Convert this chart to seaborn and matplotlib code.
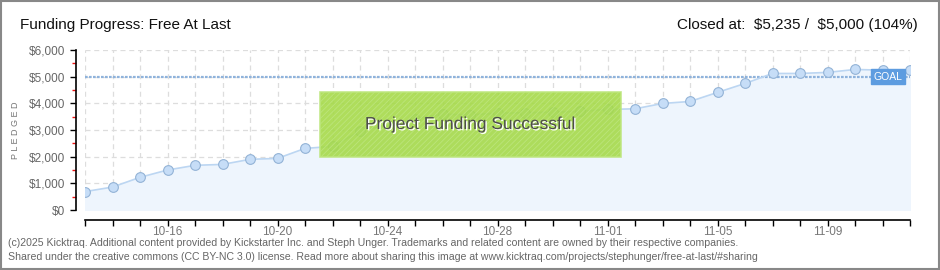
import numpy as np
import pandas as pd
import matplotlib
matplotlib.use('Agg')
import matplotlib.pyplot as plt
import matplotlib.dates as mdates
from matplotlib.patches import Rectangle
import matplotlib.patheffects as pe
import seaborn as sns

# ── Data ──────────────────────────────────────────────────────────────────────
dates = pd.date_range('2013-10-13', '2013-11-12', freq='D')
pledged = [690, 860, 1225, 1500, 1675, 1710, 1900, 1935, 2310, 2385,
           2960, 3200, 3420, 3595, 3570, 3630, 3645, 3670, 3700, 3770,
           3795, 3995, 4070, 4410, 4745, 5120, 5120, 5160, 5270, 5245, 5235]
goal = 5000
y_ticks = [0, 1000, 2000, 3000, 4000, 5000, 6000]
y_labels = ['$0', '$1,000', '$2,000', '$3,000', '$4,000', '$5,000', '$6,000']
title = 'Funding Progress: Free At Last'
closed = r'Closed at:  \$5,235 /  \$5,000 (104%)'
footer = ['(c)2025 Kicktraq. Additional content provided by Kickstarter Inc. and Steph Unger. '
          'Trademarks and related content are owned by their respective companies.',
          'Shared under the creative commons (CC BY-NC 3.0) license. Read more about sharing '
          'this image at www.kicktraq.com/projects/stephunger/free-at-last/#sharing']

df = pd.DataFrame({'date': dates, 'pledged': pledged})

# ── Style ─────────────────────────────────────────────────────────────────────
sns.set_style('white')
plt.rcParams['font.family'] = ['Liberation Sans', 'DejaVu Sans']
plt.rcParams['hatch.color'] = '#98cc42'
plt.rcParams['hatch.linewidth'] = 0.6

fig = plt.figure(figsize=(9.4, 2.7), dpi=100)
ax = fig.add_axes([85 / 940, 60 / 270, 825 / 940, 160 / 270])

# frame round the whole picture
fig.patches.append(Rectangle((0.0008, 0.002), 0.9984, 0.996, transform=fig.transFigure,
                             fill=False, edgecolor='#888888', linewidth=1.5))

# ── Area + line ───────────────────────────────────────────────────────────────
ax.fill_between(df['date'], df['pledged'], 0, color='#eef5fd', zorder=1)
ax.axhline(goal, color='#8fb3dc', lw=1.6, ls=(0, (1.2, 0.6)), zorder=2)
sns.lineplot(data=df, x='date', y='pledged', ax=ax, color='#bcd6f2', lw=1.2,
             marker='o', markersize=7, markerfacecolor='#c6ddf7',
             markeredgecolor='#93b3d6', markeredgewidth=0.8, zorder=3)

# ── Axes ──────────────────────────────────────────────────────────────────────
ax.set_xlim(dates[0], dates[-1])
ax.set_ylim(0, 6000)
ax.set_yticks(y_ticks)
ax.set_yticklabels(y_labels)
ax.set_yticks(np.arange(500, 6000, 1000), minor=True)
ax.tick_params(axis='y', which='major', left=True, length=4, width=1, color='black',
               labelsize=8.5, labelcolor='#666666', pad=4)
ax.tick_params(axis='y', which='minor', left=True, length=3, width=1, color='#ee1111')

ax.xaxis.set_major_locator(mdates.DayLocator())
ax.xaxis.set_minor_locator(plt.NullLocator())
ax.xaxis.set_major_formatter(plt.NullFormatter())
for d in dates[3::4]:
    ax.text(d, -0.1, d.strftime('%m-%d'), transform=ax.get_xaxis_transform(),
            ha='center', va='top', fontsize=8.5, color='#777777')
ax.tick_params(axis='x', which='major', bottom=True, direction='out', length=4,
               width=1, color='black')

ax.grid(True, which='major', color='#dddddd', ls=(0, (4, 3)), lw=0.9)
ax.set_axisbelow(True)
for s in ['top', 'right']:
    ax.spines[s].set_visible(False)
ax.spines['left'].set_position(('outward', 6.5))
ax.spines['bottom'].set_position(('outward', 7.2))
ax.spines['left'].set_linewidth(1.2)
ax.spines['bottom'].set_linewidth(1.2)
ax.spines['left'].set_color('black')
ax.spines['bottom'].set_color('black')
ax.set_xlabel('')
ax.set_ylabel('P L E D G E D', fontsize=6.5, color='#777777')
ax.yaxis.set_label_coords((20 - 85) / 825, 0.5)

# ── Goal tag ──────────────────────────────────────────────────────────────────
ax.text((888 - 85) / 825, goal, 'GOAL', transform=ax.get_yaxis_transform(),
        ha='center', va='center', fontsize=7.5, color='white', zorder=6,
        bbox=dict(boxstyle='square,pad=0.25', fc='#5d9ce0', ec='#5d9ce0'))

# ── Success banner ────────────────────────────────────────────────────────────
bx0, bx1 = (320 - 85) / 825, (621 - 85) / 825
by0, by1 = (210 - 157) / 160, (210 - 92) / 160
ax.add_patch(Rectangle((bx0, by0), bx1 - bx0, by1 - by0, transform=ax.transAxes,
                       facecolor='#a6da4a', edgecolor='#bde67e', lw=1.2, alpha=0.9,
                       hatch='//////', zorder=5))
ax.text((bx0 + bx1) / 2, (by0 + by1) / 2, 'Project Funding Successful', transform=ax.transAxes,
        ha='center', va='center', fontsize=12.5, color='#4d4d4d', zorder=7,
        path_effects=[pe.withSimplePatchShadow(offset=(1, -1), shadow_rgbFace='white', alpha=1)])

# ── Header / footer ───────────────────────────────────────────────────────────
fig.text(20 / 940, 1 - 25 / 270, title, ha='left', va='center', fontsize=11, color='#111111')
fig.text(918 / 940, 1 - 25 / 270, closed, ha='right', va='center', fontsize=11, color='#111111')
fig.text(8 / 940, 1 - 243 / 270, footer[0], ha='left', va='center', fontsize=7.6, color='#666666')
fig.text(8 / 940, 1 - 257 / 270, footer[1], ha='left', va='center', fontsize=7.6, color='#666666')

fig.savefig('out.png', dpi=100)
